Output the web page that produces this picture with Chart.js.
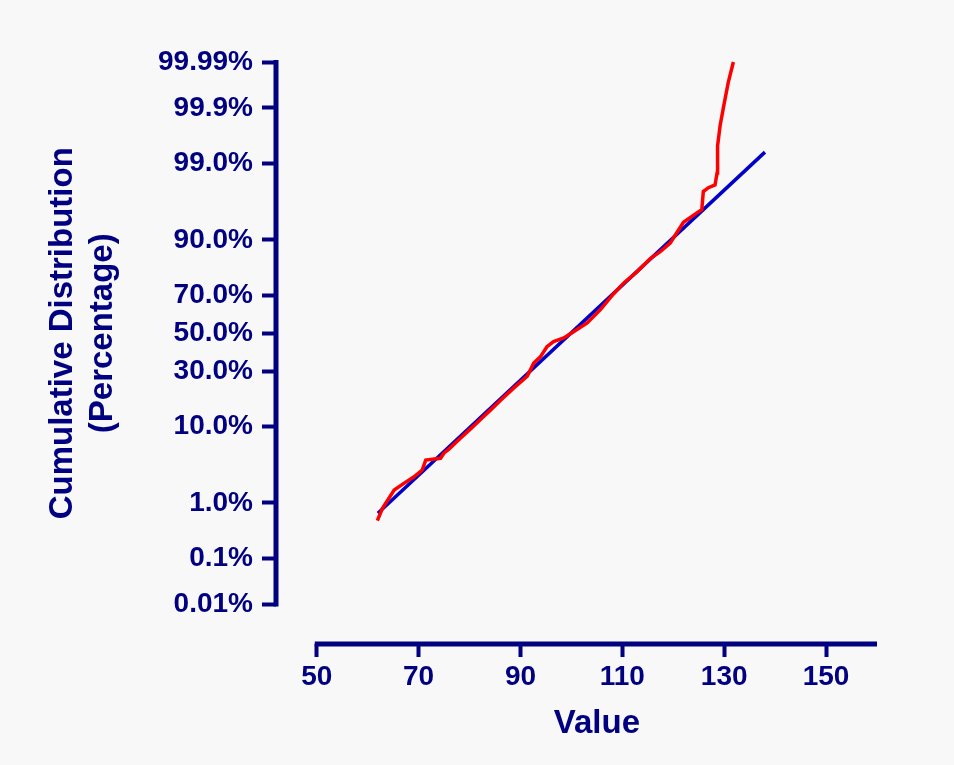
<!DOCTYPE html>
<html>
<head>
<meta charset="utf-8">
<script src="https://cdn.jsdelivr.net/npm/chart.js@4"></script>
<style>
  html, body { margin: 0; padding: 0; background: #f8f8f8; }
  #wrap { width: 954px; height: 765px; position: relative; }
</style>
</head>
<body>
<div id="wrap"><canvas id="probChart"></canvas></div>
<script>
// observed data (value, cumulative %)
const dataValues = [61.9, 62.9, 65.2, 67.1, 69.1, 70.7, 71.4, 72.7, 74.3, 75.0, 75.9, 78.2, 80.2, 82.2, 84.1,
  86.1, 88.7, 91.3, 92.6, 93.9, 95.2, 96.5, 98.5, 100.5, 103.1, 105.7, 108.3, 110.3, 112.9, 115.5, 117.5,
  119.4, 122.0, 124.7, 125.6, 125.9, 126.9, 128.2, 128.6, 128.7, 129.2, 129.9, 130.8, 131.8];
const dataPercents = [0.51, 0.82, 1.58, 1.98, 2.46, 3.04, 4.11, 4.2, 4.33, 5.04, 5.58, 7.5, 9.5, 11.9, 14.6,
  17.9, 22.7, 27.7, 34.1, 37.3, 42.7, 45.5, 47.4, 51.0, 55.6, 62.7, 70.6, 75.5, 80.1, 84.7, 86.9,
  89.2, 93.6, 95.1, 95.5, 97.4, 97.7, 97.9, 98.6, 99.49, 99.78, 99.908, 99.971, 99.99];

// fitted normal line (straight on a probability axis)
const fitValues = [62, 138];
const fitPercents = [0.68, 99.35];

// axis ticks
const xTicks = [50, 70, 90, 110, 130, 150];
const yTickPercents = [0.01, 0.1, 1, 10, 30, 50, 70, 90, 99, 99.9, 99.99];
const yTickLabels = ["0.01%", "0.1%", "1.0%", "10.0%", "30.0%", "50.0%", "70.0%", "90.0%", "99.0%", "99.9%", "99.99%"];

const xTitle = "Value";
const yTitleLines = ["Cumulative Distribution", "(Percentage)"];

const navy = "#000080";
const fontFamily = "'Liberation Sans', Arial, sans-serif";

// percent -> normal quantile (probability axis)
function probit(pct) {
    const p = pct / 100;
    const a = [-3.969683028665376e+01, 2.209460984245205e+02, -2.759285104469687e+02, 1.383577518672690e+02, -3.066479806614716e+01, 2.506628277459239e+00];
    const b = [-5.447609879822406e+01, 1.615858368580409e+02, -1.556989798598866e+02, 6.680131188771972e+01, -1.328068155288572e+01];
    const c = [-7.784894002430293e-03, -3.223964580411365e-01, -2.400758277161838e+00, -2.549671348234050e+00, 4.374664141464968e+00, 2.938163982698783e+00];
    const d = [7.784695709041462e-03, 3.224671290700398e-01, 2.445134137142996e+00, 3.754408661907416e+00];
    const pl = 0.02425;
    let q, r;
    if (p < pl) {
        q = Math.sqrt(-2 * Math.log(p));
        return (((((c[0]*q+c[1])*q+c[2])*q+c[3])*q+c[4])*q+c[5]) / ((((d[0]*q+d[1])*q+d[2])*q+d[3])*q+1);
    }
    if (p > 1 - pl) {
        q = Math.sqrt(-2 * Math.log(1 - p));
        return -(((((c[0]*q+c[1])*q+c[2])*q+c[3])*q+c[4])*q+c[5]) / ((((d[0]*q+d[1])*q+d[2])*q+d[3])*q+1);
    }
    q = p - 0.5;
    r = q * q;
    return (((((a[0]*r+a[1])*r+a[2])*r+a[3])*r+a[4])*r+a[5])*q / (((((b[0]*r+b[1])*r+b[2])*r+b[3])*r+b[4])*r+1);
}

const toPoints = (xs, ps) => xs.map((v, i) => ({ x: v, y: probit(ps[i]) }));

// detached axis lines + titles, Prism style
const axesPlugin = {
    id: "prismAxes",
    afterDraw(chart) {
        const { ctx, chartArea, scales: { x, y } } = chart;
        const yTop = y.getPixelForValue(probit(yTickPercents[yTickPercents.length - 1]));
        const yBot = y.getPixelForValue(probit(yTickPercents[0]));
        const xLeft = x.getPixelForValue(xTicks[0]);
        ctx.save();
        ctx.strokeStyle = navy;
        ctx.lineWidth = 5;
        ctx.beginPath();
        ctx.moveTo(chartArea.left, yBot + 2);
        ctx.lineTo(chartArea.left, yTop - 2);
        ctx.stroke();
        ctx.beginPath();
        ctx.moveTo(xLeft - 2, chartArea.bottom);
        ctx.lineTo(chartArea.right, chartArea.bottom);
        ctx.stroke();

        ctx.fillStyle = navy;
        ctx.font = "bold 33px " + fontFamily;
        ctx.textAlign = "center";
        ctx.textBaseline = "alphabetic";
        const midY = (yTop + yBot) / 2;
        yTitleLines.forEach((line, i) => {
            ctx.save();
            ctx.translate(chartArea.left - 204 + i * 40, midY);
            ctx.rotate(-Math.PI / 2);
            ctx.fillText(line, 0, 0);
            ctx.restore();
        });
        ctx.fillText(xTitle, (xLeft + chartArea.right) / 2, chartArea.bottom + 89);
        ctx.restore();
    }
};

Chart.defaults.font.family = fontFamily;
Chart.defaults.font.weight = "bold";
Chart.defaults.color = navy;

const ctx = document.getElementById("probChart").getContext("2d");
const chart = new Chart(ctx, {
    type: "line",
    data: {
        datasets: [
            {
                label: "Data",
                data: toPoints(dataValues, dataPercents),
                borderColor: "#ff0000",
                borderWidth: 3.5,
                pointRadius: 0,
                tension: 0,
                clip: false,
                order: 0
            },
            {
                label: "Fit",
                data: toPoints(fitValues, fitPercents),
                borderColor: "#0000c8",
                borderWidth: 3.5,
                pointRadius: 0,
                tension: 0,
                clip: false,
                order: 1
            }
        ]
    },
    options: {
        responsive: true,
        maintainAspectRatio: false,
        animation: false,
        events: [],
        layout: { padding: { left: 0, top: 62, right: 77, bottom: 0 } },
        plugins: { legend: { display: false }, tooltip: { enabled: false } },
        scales: {
            x: {
                type: "linear",
                min: 42,
                max: 160,
                bounds: "data",
                afterBuildTicks: s => { s.ticks = xTicks.map(v => ({ value: v })); },
                afterFit: s => { s.height = 121; },
                ticks: {
                    autoSkip: false,
                    maxRotation: 0,
                    padding: 3,
                    font: { size: 28, weight: "bold" },
                    color: navy,
                    callback: v => String(v)
                },
                grid: { drawOnChartArea: false, drawTicks: true, tickLength: 13, tickWidth: 4, tickColor: navy },
                border: { display: false }
            },
            y: {
                type: "linear",
                min: -4.26,
                max: probit(99.99),
                bounds: "data",
                afterBuildTicks: s => { s.ticks = yTickPercents.map(p => ({ value: probit(p) })); },
                afterFit: s => { s.width = 276; },
                ticks: {
                    autoSkip: false,
                    padding: 9,
                    font: { size: 28, weight: "bold" },
                    color: navy,
                    callback: (v, i) => yTickLabels[i]
                },
                grid: { drawOnChartArea: false, drawTicks: true, tickLength: 14, tickWidth: 4, tickColor: navy },
                border: { display: false }
            }
        }
    },
    plugins: [axesPlugin]
});
</script>
</body>
</html>
